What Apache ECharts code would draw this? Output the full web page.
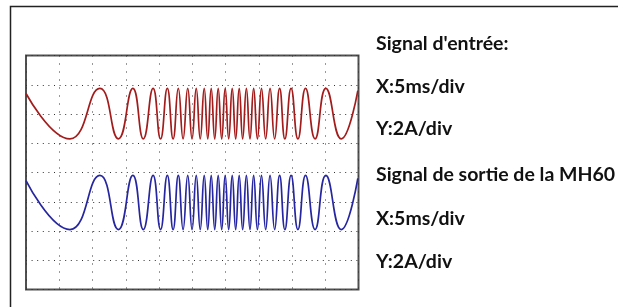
<!DOCTYPE html>
<html>
<head>
<meta charset="utf-8">
<script src="https://cdn.jsdelivr.net/npm/echarts@6/dist/echarts.min.js"></script>
<style>
    html, body { margin: 0; padding: 0; background: #fff; }
    #chart { width: 618px; height: 307px; }
</style>
</head>
<body>
<div id="chart"></div>
<script>
// time of each turning point of the sweep (ms)
var sweepTimes = [
    0, 6.61, 11.11, 13.89, 16.07, 17.64, 19.11, 20.23, 21.25, 22.12,
    22.90, 23.62, 24.32, 24.97, 25.60, 26.20, 26.80, 27.33, 27.85, 28.38,
    28.90, 29.43, 29.95, 30.48, 31.01, 31.53, 32.06, 32.58, 33.14, 33.68,
    34.23, 34.80, 35.41, 36.04, 36.70, 37.39, 38.14, 38.93, 39.86, 40.89,
    42.04, 43.47, 45.09, 47.40, 49.9
];

// input signal (A, channel shifted up)
var inputValues = [
    5.4, 2.3, 5.75, 2.3, 5.75, 2.3, 5.75, 2.3, 5.75, 2.3,
    5.75, 2.3, 5.75, 2.3, 5.75, 2.3, 5.75, 2.3, 5.75, 2.3,
    5.75, 2.3, 5.75, 2.3, 5.75, 2.3, 5.75, 2.3, 5.75, 2.3,
    5.75, 2.3, 5.75, 2.3, 5.75, 2.3, 5.75, 2.3, 5.75, 2.3,
    5.75, 2.3, 5.75, 2.3, 5.6
];

// MH60 output signal (A, channel shifted down)
var outputValues = [
    -0.55, -3.9, -0.2, -3.9, -0.2, -3.9, -0.2, -3.9, -0.2, -3.9,
    -0.2, -3.9, -0.2, -3.9, -0.2, -3.9, -0.2, -3.9, -0.2, -3.9,
    -0.2, -3.9, -0.2, -3.9, -0.2, -3.9, -0.2, -3.9, -0.2, -3.9,
    -0.2, -3.9, -0.2, -3.9, -0.2, -3.9, -0.2, -3.9, -0.2, -3.9,
    -0.2, -3.9, -0.2, -3.9, -0.4
];

var captions = [
    'Signal d\'entrée:',
    'X:5ms/div',
    'Y:2A/div',
    'Signal de sortie de la MH60',
    'X:5ms/div',
    'Y:2A/div'
];
var captionRows = [43.5, 86.5, 128.5, 175, 218.5, 261.5];

function toPairs(times, values) {
    var out = [];
    times.forEach(function (t, i) {
        out.push([t, values[i]]);
    });
    return out;
}

var myChart = echarts.init(document.getElementById('chart'), null, {renderer: 'canvas'});

var graphics = [{
    type: 'polyline',
    shape: {points: [[10.5, 307], [10.5, 6.5], [618, 6.5]]},
    style: {stroke: '#222', lineWidth: 1.5, fill: null},
    silent: true
}];
captions.forEach(function (txt, i) {
    graphics.push({
        type: 'text',
        x: 376,
        y: captionRows[i],
        style: {
            text: txt,
            fill: '#111',
            font: 'bold 19.5px Lato',
            verticalAlign: 'middle'
        },
        silent: true
    });
});

var option = {
    animation: false,
    backgroundColor: '#fff',
    grid: {
        left: 26,
        top: 55.5,
        width: 332.5,
        height: 234,
        show: true,
        borderColor: '#505050',
        borderWidth: 2,
        backgroundColor: 'transparent'
    },
    xAxis: {
        type: 'value',
        min: 0,
        max: 50,
        interval: 5,
        axisLine: {show: false},
        axisTick: {show: false},
        axisLabel: {show: false},
        splitLine: {
            show: true,
            lineStyle: {color: '#333', width: 1, type: [1, 7]}
        }
    },
    yAxis: {
        type: 'value',
        min: -8,
        max: 8,
        interval: 2,
        axisLine: {show: false},
        axisTick: {show: false},
        axisLabel: {show: false},
        splitLine: {
            show: true,
            lineStyle: {color: '#333', width: 1, type: [1, 4.6]}
        }
    },
    series: [
        {
            name: 'Signal d\'entrée',
            type: 'line',
            smooth: true,
            showSymbol: false,
            data: toPairs(sweepTimes, inputValues),
            lineStyle: {color: '#a31c1c', width: 1.7}
        },
        {
            name: 'Signal de sortie',
            type: 'line',
            smooth: true,
            showSymbol: false,
            data: toPairs(sweepTimes, outputValues),
            lineStyle: {color: '#2626a0', width: 1.7}
        }
    ],
    graphic: graphics
};
myChart.setOption(option);
</script>
</body>
</html>
